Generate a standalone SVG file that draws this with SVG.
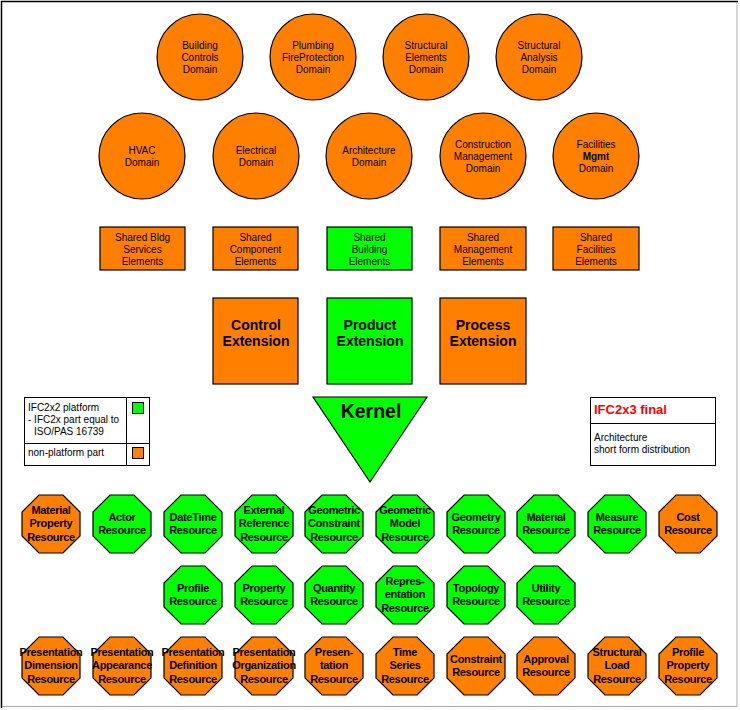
<svg xmlns="http://www.w3.org/2000/svg" width="740" height="710" viewBox="0 0 740 710">
<defs>
<style>
.or{fill:#FF8000;stroke:#000;stroke-width:1.2}
.gr{fill:#00FF00;stroke:#000;stroke-width:1.2}
.t{font-family:"Liberation Sans",Arial,sans-serif;font-size:10px;fill:#000;text-anchor:middle}
.b{font-family:"Liberation Sans",Arial,sans-serif;font-size:11px;font-weight:bold;fill:#000;text-anchor:middle;letter-spacing:-0.3px}
.x{font-family:"Liberation Sans",Arial,sans-serif;font-size:14px;font-weight:bold;fill:#000;text-anchor:middle}
.k{font-family:"Liberation Sans",Arial,sans-serif;font-size:19.5px;font-weight:bold;fill:#000;text-anchor:middle}
.l{font-family:"Liberation Sans",Arial,sans-serif;font-size:10px;fill:#000}
</style>
<polygon id="oct" points="-12,-29 12,-29 29,-12 29,12 12,29 -12,29 -29,12 -29,-12"/>
</defs>
<rect width="740" height="710" fill="#fff"/>
<path d="M1.5 708 V1.5 H738" fill="none" stroke="#000" stroke-width="1.5"/>
<path d="M737 2 V706.5 H2" fill="none" stroke="#aaa" stroke-width="1"/>

<g id="connectors"></g>

<!-- Row 1 domains -->
<g id="building-controls"><circle class="or" cx="200" cy="57" r="43"/><text class="t" x="200" y="49">Building</text><text class="t" x="200" y="61">Controls</text><text class="t" x="200" y="73">Domain</text></g>
<g id="plumbing"><circle class="or" cx="313" cy="57" r="43"/><text class="t" x="313" y="49">Plumbing</text><text class="t" x="313" y="61">FireProtection</text><text class="t" x="313" y="73">Domain</text></g>
<g id="structural-elements"><circle class="or" cx="426" cy="57" r="43"/><text class="t" x="426" y="49">Structural</text><text class="t" x="426" y="61">Elements</text><text class="t" x="426" y="73">Domain</text></g>
<g id="structural-analysis"><circle class="or" cx="539" cy="57" r="43"/><text class="t" x="539" y="49">Structural</text><text class="t" x="539" y="61">Analysis</text><text class="t" x="539" y="73">Domain</text></g>

<!-- Row 2 domains -->
<g id="hvac"><circle class="or" cx="142" cy="156" r="43"/><text class="t" x="142" y="154">HVAC</text><text class="t" x="142" y="166">Domain</text></g>
<g id="electrical"><circle class="or" cx="256" cy="156" r="43"/><text class="t" x="256" y="154">Electrical</text><text class="t" x="256" y="166">Domain</text></g>
<g id="architecture"><circle class="or" cx="369" cy="156" r="43"/><text class="t" x="369" y="154">Architecture</text><text class="t" x="369" y="166">Domain</text></g>
<g id="construction"><circle class="or" cx="483" cy="156" r="43"/><text class="t" x="483" y="148">Construction</text><text class="t" x="483" y="160">Management</text><text class="t" x="483" y="172">Domain</text></g>
<g id="facilities"><circle class="or" cx="596" cy="156" r="43"/><text class="t" x="596" y="148">Facilities</text><text class="t" x="596" y="160" font-weight="bold">Mgmt</text><text class="t" x="596" y="172">Domain</text></g>

<!-- Shared elements -->
<g id="shared-bldg-services"><rect class="or" x="100" y="227" width="85" height="43"/><text class="t" x="142.5" y="241">Shared Bldg</text><text class="t" x="142.5" y="253">Services</text><text class="t" x="142.5" y="265">Elements</text></g>
<g id="shared-component"><rect class="or" x="213" y="227" width="85" height="43"/><text class="t" x="255.5" y="241">Shared</text><text class="t" x="255.5" y="253">Component</text><text class="t" x="255.5" y="265">Elements</text></g>
<g id="shared-building"><rect class="gr" x="327" y="227" width="85" height="43"/><text class="t" x="369.5" y="241">Shared</text><text class="t" x="369.5" y="253">Building</text><text class="t" x="369.5" y="265">Elements</text></g>
<g id="shared-management"><rect class="or" x="440" y="227" width="86" height="43"/><text class="t" x="483" y="241">Shared</text><text class="t" x="483" y="253">Management</text><text class="t" x="483" y="265">Elements</text></g>
<g id="shared-facilities"><rect class="or" x="553" y="227" width="86" height="43"/><text class="t" x="596" y="241">Shared</text><text class="t" x="596" y="253">Facilities</text><text class="t" x="596" y="265">Elements</text></g>

<!-- Extensions -->
<g id="control-ext"><rect class="or" x="213" y="298" width="85" height="86"/><text class="x" x="256" y="330">Control</text><text class="x" x="256" y="346">Extension</text></g>
<g id="product-ext"><rect class="gr" x="327" y="298" width="85" height="86"/><text class="x" x="370" y="330">Product</text><text class="x" x="370" y="346">Extension</text></g>
<g id="process-ext"><rect class="or" x="440" y="298" width="86" height="86"/><text class="x" x="483" y="330">Process</text><text class="x" x="483" y="346">Extension</text></g>

<!-- Legend -->
<g id="legend">
<rect x="24.5" y="397.5" width="125" height="68" fill="#fff" stroke="#000" stroke-width="1"/>
<line x1="24.5" y1="443.5" x2="149.5" y2="443.5" stroke="#000"/>
<line x1="126.5" y1="397.5" x2="126.5" y2="465.5" stroke="#000"/>
<rect x="132.5" y="402.5" width="11" height="11" fill="#00FF00" stroke="#000"/>
<rect x="132.5" y="447.5" width="11" height="11" fill="#FF8000" stroke="#000"/>
<text class="l" x="28" y="411">IFC2x2 platform</text>
<text class="l" x="28" y="423">- IFC2x part equal to</text>
<text class="l" x="34" y="435">ISO/PAS 16739</text>
<text class="l" x="28" y="456">non-platform part</text>
</g>

<!-- Kernel -->
<g id="kernel"><polygon class="gr" points="313,397 427,397 370,482"/><text class="k" x="371" y="418">Kernel</text></g>

<!-- IFC2x3 box -->
<g id="ifc2x3">
<rect x="590.5" y="397.5" width="125" height="68" fill="#fff" stroke="#000"/>
<line x1="590.5" y1="423.5" x2="715.5" y2="423.5" stroke="#000"/>
<text x="594" y="414" font-family="Liberation Sans,Arial,sans-serif" font-size="13" font-weight="bold" fill="#FF0000">IFC2x3 final</text>
<text class="l" x="594" y="441">Architecture</text>
<text class="l" x="594" y="453">short form distribution</text>
</g>

<!-- Resources row 1 -->
<g id="material-property"><use href="#oct" class="or" transform="translate(51,524)"/><text class="b" x="51" y="514">Material</text><text class="b" x="51" y="527">Property</text><text class="b" x="51" y="541">Resource</text></g>
<g id="actor"><use href="#oct" class="gr" transform="translate(122,524)"/><text class="b" x="122" y="521">Actor</text><text class="b" x="122" y="534">Resource</text></g>
<g id="datetime"><use href="#oct" class="gr" transform="translate(193,524)"/><text class="b" x="193" y="521">DateTime</text><text class="b" x="193" y="534">Resource</text></g>
<g id="external-reference"><use href="#oct" class="gr" transform="translate(264,524)"/><text class="b" x="264" y="514">External</text><text class="b" x="264" y="527">Reference</text><text class="b" x="264" y="541">Resource</text></g>
<g id="geometric-constraint"><use href="#oct" class="gr" transform="translate(334,524)"/><text class="b" x="334" y="514">Geometric</text><text class="b" x="334" y="527">Constraint</text><text class="b" x="334" y="541">Resource</text></g>
<g id="geometric-model"><use href="#oct" class="gr" transform="translate(405,524)"/><text class="b" x="405" y="514">Geometric</text><text class="b" x="405" y="527">Model</text><text class="b" x="405" y="541">Resource</text></g>
<g id="geometry"><use href="#oct" class="gr" transform="translate(476,524)"/><text class="b" x="476" y="521">Geometry</text><text class="b" x="476" y="534">Resource</text></g>
<g id="material"><use href="#oct" class="gr" transform="translate(546,524)"/><text class="b" x="546" y="521">Material</text><text class="b" x="546" y="534">Resource</text></g>
<g id="measure"><use href="#oct" class="gr" transform="translate(617,524)"/><text class="b" x="617" y="521">Measure</text><text class="b" x="617" y="534">Resource</text></g>
<g id="cost"><use href="#oct" class="or" transform="translate(688,524)"/><text class="b" x="688" y="521">Cost</text><text class="b" x="688" y="534">Resource</text></g>

<!-- Resources row 2 -->
<g id="profile"><use href="#oct" class="gr" transform="translate(193,595)"/><text class="b" x="193" y="592">Profile</text><text class="b" x="193" y="605">Resource</text></g>
<g id="property"><use href="#oct" class="gr" transform="translate(264,595)"/><text class="b" x="264" y="592">Property</text><text class="b" x="264" y="605">Resource</text></g>
<g id="quantity"><use href="#oct" class="gr" transform="translate(334,595)"/><text class="b" x="334" y="592">Quantity</text><text class="b" x="334" y="605">Resource</text></g>
<g id="representation"><use href="#oct" class="gr" transform="translate(405,595)"/><text class="b" x="405" y="585">Repres-</text><text class="b" x="405" y="598">entation</text><text class="b" x="405" y="612">Resource</text></g>
<g id="topology"><use href="#oct" class="gr" transform="translate(476,595)"/><text class="b" x="476" y="592">Topology</text><text class="b" x="476" y="605">Resource</text></g>
<g id="utility"><use href="#oct" class="gr" transform="translate(546,595)"/><text class="b" x="546" y="592">Utility</text><text class="b" x="546" y="605">Resource</text></g>

<!-- Resources row 3 -->
<g id="presentation-dimension"><use href="#oct" class="or" transform="translate(51,666)"/><text class="b" x="51" y="656">Presentation</text><text class="b" x="51" y="669">Dimension</text><text class="b" x="51" y="683">Resource</text></g>
<g id="presentation-appearance"><use href="#oct" class="or" transform="translate(122,666)"/><text class="b" x="122" y="656">Presentation</text><text class="b" x="122" y="669">Appearance</text><text class="b" x="122" y="683">Resource</text></g>
<g id="presentation-definition"><use href="#oct" class="or" transform="translate(193,666)"/><text class="b" x="193" y="656">Presentation</text><text class="b" x="193" y="669">Definition</text><text class="b" x="193" y="683">Resource</text></g>
<g id="presentation-organization"><use href="#oct" class="or" transform="translate(264,666)"/><text class="b" x="264" y="656">Presentation</text><text class="b" x="264" y="669">Organization</text><text class="b" x="264" y="683">Resource</text></g>
<g id="presentation"><use href="#oct" class="or" transform="translate(334,666)"/><text class="b" x="334" y="656">Presen-</text><text class="b" x="334" y="669">tation</text><text class="b" x="334" y="683">Resource</text></g>
<g id="time-series"><use href="#oct" class="or" transform="translate(405,666)"/><text class="b" x="405" y="656">Time</text><text class="b" x="405" y="669">Series</text><text class="b" x="405" y="683">Resource</text></g>
<g id="constraint"><use href="#oct" class="or" transform="translate(476,666)"/><text class="b" x="476" y="663">Constraint</text><text class="b" x="476" y="676">Resource</text></g>
<g id="approval"><use href="#oct" class="or" transform="translate(546,666)"/><text class="b" x="546" y="663">Approval</text><text class="b" x="546" y="676">Resource</text></g>
<g id="structural-load"><use href="#oct" class="or" transform="translate(617,666)"/><text class="b" x="617" y="656">Structural</text><text class="b" x="617" y="669">Load</text><text class="b" x="617" y="683">Resource</text></g>
<g id="profile-property"><use href="#oct" class="or" transform="translate(688,666)"/><text class="b" x="688" y="656">Profile</text><text class="b" x="688" y="669">Property</text><text class="b" x="688" y="683">Resource</text></g>
</svg>
